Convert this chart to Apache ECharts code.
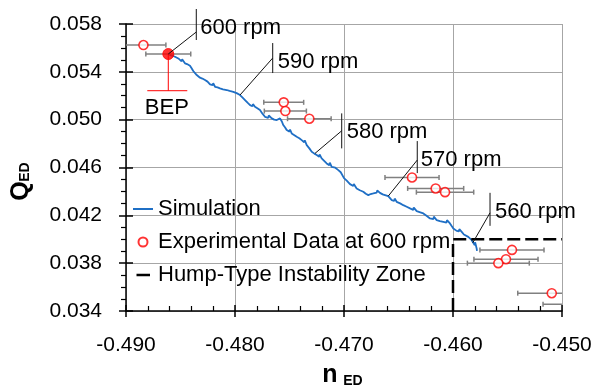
<!DOCTYPE html>
<html><head><meta charset="utf-8">
<script src="https://cdn.jsdelivr.net/npm/echarts@6/dist/echarts.min.js"></script>
<style>html,body{margin:0;padding:0;background:#fff}#c{width:603px;height:391px}</style>
</head><body><div id="c"></div>
<script>
// ---------- data ----------
const xMin = -0.490, xMax = -0.450, xStep = 0.010;
const yMin = 0.034, yMax = 0.058, yStep = 0.004;

const simX = [-0.48606,-0.48585,-0.48570,-0.48550,-0.48532,-0.48520,-0.48505,-0.48490,-0.48485,-0.48478,-0.48459,-0.48440,-0.48425,-0.48413,-0.48398,-0.48392,-0.48383,-0.48368,-0.48351,-0.48335,-0.48321,-0.48300,-0.48275,-0.48252,-0.48240,-0.48229,-0.48205,-0.48200,-0.48183,-0.48160,-0.48138,-0.48110,-0.48105,-0.48076,-0.48050,-0.48045,-0.48016,-0.47985,-0.47954,-0.47930,-0.47908,-0.47885,-0.47862,-0.47840,-0.47835,-0.47817,-0.47795,-0.47771,-0.47748,-0.47725,-0.47695,-0.47690,-0.47663,-0.47640,-0.47617,-0.47600,-0.47587,-0.47570,-0.47557,-0.47540,-0.47526,-0.47500,-0.47495,-0.47480,-0.47455,-0.47434,-0.47410,-0.47388,-0.47365,-0.47360,-0.47342,-0.47318,-0.47296,-0.47272,-0.47250,-0.47228,-0.47224,-0.47205,-0.47182,-0.47159,-0.47135,-0.47130,-0.47113,-0.47080,-0.47052,-0.47030,-0.47000,-0.46975,-0.46945,-0.46915,-0.46910,-0.46884,-0.46855,-0.46850,-0.46823,-0.46800,-0.46777,-0.46755,-0.46731,-0.46700,-0.46695,-0.46670,-0.46645,-0.46624,-0.46594,-0.46562,-0.46540,-0.46535,-0.46517,-0.46485,-0.46456,-0.46425,-0.46394,-0.46365,-0.46360,-0.46333,-0.46300,-0.46296,-0.46272,-0.46240,-0.46211,-0.46180,-0.46176,-0.46150,-0.46120,-0.46089,-0.46060,-0.46055,-0.46028,-0.46012,-0.45997,-0.45980,-0.45966,-0.45945,-0.45942,-0.45920,-0.45905,-0.45900,-0.45890,-0.45860,-0.45828,-0.45800,-0.45797,-0.45783,-0.45780];
const simY = [0.05546,0.05538,0.05530,0.05526,0.05510,0.05512,0.05499,0.05488,0.05505,0.05490,0.05471,0.05465,0.05458,0.05451,0.05430,0.05445,0.05407,0.05395,0.05373,0.05362,0.05351,0.05344,0.05331,0.05318,0.05308,0.05295,0.05288,0.05305,0.05275,0.05270,0.05262,0.05254,0.05240,0.05248,0.05240,0.05255,0.05233,0.05222,0.05206,0.05185,0.05164,0.05142,0.05122,0.05112,0.05130,0.05108,0.05095,0.05080,0.05050,0.05024,0.05015,0.05035,0.05011,0.05000,0.04997,0.05008,0.05011,0.04985,0.04955,0.04935,0.04913,0.04900,0.04918,0.04885,0.04870,0.04857,0.04845,0.04829,0.04810,0.04828,0.04787,0.04760,0.04731,0.04716,0.04704,0.04690,0.04710,0.04676,0.04655,0.04634,0.04618,0.04640,0.04606,0.04598,0.04578,0.04560,0.04511,0.04490,0.04461,0.04445,0.04462,0.04425,0.04410,0.04395,0.04397,0.04380,0.04369,0.04378,0.04383,0.04390,0.04408,0.04388,0.04375,0.04369,0.04360,0.04327,0.04320,0.04340,0.04313,0.04300,0.04285,0.04272,0.04258,0.04245,0.04265,0.04235,0.04225,0.04210,0.04216,0.04195,0.04174,0.04168,0.04190,0.04160,0.04152,0.04146,0.04140,0.04160,0.04132,0.04110,0.04090,0.04078,0.04070,0.04066,0.04085,0.04062,0.04055,0.04040,0.04049,0.04020,0.03992,0.03950,0.03975,0.03923,0.03903];

const expX   = [-0.48840,-0.47553,-0.47538,-0.47318,-0.46376,-0.46159,-0.46073,-0.45459,-0.45514,-0.45584,-0.45094,-0.44854];
const expY   = [ 0.05624, 0.05145, 0.05072, 0.05008, 0.04517, 0.04425, 0.04394, 0.03911, 0.03833, 0.03800, 0.03549, 0.03457];
const expErr = [ 0.00206, 0.00183, 0.00193, 0.00200, 0.00248, 0.00257, 0.00263, 0.00294, 0.00294, 0.00284, 0.00312, 0.00320];

const bepX = -0.48612, bepY = 0.05549, bepErr = 0.00206;

const humpX = -0.460, humpY = 0.040;

const annLabels = ['600 rpm','590 rpm','580 rpm','570 rpm','560 rpm'];
const annX = [-0.48612,-0.47954,-0.47266,-0.46594,-0.45819];
const annY = [ 0.05549, 0.05206, 0.04718, 0.04361, 0.03970];

// ---------- styles (pixel offsets of callouts) ----------
const annOff = [
  {dx:28,   top:-45, bot:-14, dEnd:-22,   ty:-26,   tx:4},
  {dx:32.7, top:-52, bot:-22, dEnd:-37,   ty:-33,   tx:5},
  {dx:26.7, top:-40, bot:-5,  dEnd:-22.6, ty:-21.6, tx:5},
  {dx:29,   top:-55, bot:-23, dEnd:-36,   ty:-36,   tx:3.5},
  {dx:17.3, top:-50, bot:-17, dEnd:-30,   ty:-31,   tx:5}
];
const FONT = '"Liberation Sans", Arial, sans-serif';

const chart = echarts.init(document.getElementById('c'), null, {renderer:'canvas'});

function errRender(params, api){
  const x = api.value(0), y = api.value(1), e = api.value(2);
  const a = api.coord([x - e, y]), b = api.coord([x + e, y]);
  const st = {stroke:'#808080', lineWidth:1.5};
  return {type:'group', children:[
    {type:'line', shape:{x1:a[0], y1:a[1], x2:b[0], y2:b[1]}, style:st},
    {type:'line', shape:{x1:a[0], y1:a[1]-2.5, x2:a[0], y2:a[1]+2.5}, style:st},
    {type:'line', shape:{x1:b[0], y1:b[1]-2.5, x2:b[0], y2:b[1]+2.5}, style:st}
  ]};
}

const axisCommonX = {type:'value', min:xMin, max:xMax, interval:xStep, position:'bottom'};
const axisCommonY = {type:'value', min:yMin, max:yMax, interval:yStep, position:'left'};

const option = {
  animation:false,
  backgroundColor:'#fff',
  grid:{left:126, right:41, top:24, bottom:80, containLabel:false},
  xAxis:[
    Object.assign({}, axisCommonX, {
      axisLine:{show:true, onZero:false, lineStyle:{color:'#000', width:1.5}},
      axisTick:{show:true, inside:false, length:6, lineStyle:{color:'#000', width:1.5}},
      minorTick:{show:false},
      axisLabel:{show:true, color:'#000', fontSize:21, fontFamily:FONT, margin:24,
        formatter:v => v.toFixed(3)},
      splitLine:{show:true, lineStyle:{color:'#a6a6a6', width:1}}
    }),
    Object.assign({}, axisCommonX, {
      axisLine:{show:false, onZero:false},
      axisTick:{show:true, inside:true, length:6, lineStyle:{color:'#000', width:1.5}},
      minorTick:{show:true, splitNumber:5, length:5, lineStyle:{color:'#000', width:1.2}},
      axisLabel:{show:false}, splitLine:{show:false}
    })
  ],
  yAxis:[
    Object.assign({}, axisCommonY, {
      axisLine:{show:true, onZero:false, lineStyle:{color:'#000', width:1.5}},
      axisTick:{show:true, inside:false, length:7, lineStyle:{color:'#000', width:1.5}},
      minorTick:{show:true, splitNumber:4, length:5, lineStyle:{color:'#000', width:1.2}},
      axisLabel:{show:true, color:'#000', fontSize:21, fontFamily:FONT, margin:24,
        formatter:v => v.toFixed(3)},
      splitLine:{show:true, lineStyle:{color:'#a6a6a6', width:1}}
    }),
    Object.assign({}, axisCommonY, {
      axisLine:{show:false, onZero:false},
      axisTick:{show:true, inside:true, length:7, lineStyle:{color:'#000', width:1.5}},
      minorTick:{show:false}, axisLabel:{show:false}, splitLine:{show:false}
    })
  ],
  legend:{
    orient:'vertical', left:128, top:193, itemWidth:20, itemHeight:9, itemGap:11,
    symbolKeepAspect:true,
    textStyle:{color:'#000', fontSize:22, fontFamily:FONT},
    data:[
      {name:'Simulation', icon:'path://M0,0h20v2h-20z'},
      {name:'Experimental Data at 600 rpm', icon:'circle'},
      {name:'Hump-Type Instability Zone', icon:'path://M0,0h0.05v0.05h-0.05z M3.5,0h13.5v2.6h-13.5z M19.95,0h0.05v0.05h-0.05z'}
    ]
  },
  series:[
    {
      name:'Simulation', type:'line', xAxisIndex:0, yAxisIndex:0,
      data: simX.map((x,i) => [x, simY[i]]),
      showSymbol:false, symbol:'none',
      lineStyle:{color:'#1f6fc5', width:1.8}, itemStyle:{color:'#1f6fc5'}, z:2
    },
    {
      name:'Hump-Type Instability Zone', type:'line', xAxisIndex:0, yAxisIndex:0,
      data: [[humpX, yMin], [humpX, humpY], [xMax, humpY]],
      showSymbol:false, symbol:'none',
      lineStyle:{color:'#000', width:2.5, type:[13,5]}, itemStyle:{color:'#000'}, z:3
    },
    {
      name:'errbars', type:'custom', xAxisIndex:0, yAxisIndex:0, clip:true,
      renderItem: errRender,
      data: expX.map((x,i) => [x, expY[i], expErr[i]]).concat([[bepX, bepY, bepErr]]),
      z:4, silent:true
    },
    {
      name:'Experimental Data at 600 rpm', type:'scatter', xAxisIndex:0, yAxisIndex:0, clip:true,
      data: expX.map((x,i) => [x, expY[i]]),
      symbol:'circle', symbolSize:9,
      itemStyle:{color:'#fff', borderColor:'#ff0000', borderWidth:1.6}, z:5
    },
    {
      name:'BEP', type:'scatter', xAxisIndex:0, yAxisIndex:0,
      data: [[bepX, bepY]], symbol:'circle', symbolSize:11,
      itemStyle:{color:'#ff0000', borderColor:'#ff0000', borderWidth:1}, z:6
    },
    {
      name:'bepNote', type:'custom', xAxisIndex:0, yAxisIndex:0, clip:false, silent:true,
      data: [[bepX, bepY]],
      renderItem: function(params, api){
        const p = api.coord([api.value(0), api.value(1)]);
        const st = {stroke:'#ff0000', lineWidth:1};
        return {type:'group', children:[
          {type:'line', shape:{x1:p[0], y1:p[1], x2:p[0], y2:p[1]+36.7}, style:st},
          {type:'line', shape:{x1:p[0]-21, y1:p[1]+36.7, x2:p[0]+19, y2:p[1]+36.7}, style:st},
          {type:'text', x:p[0]-1.5, y:p[1]+53.5, style:{text:'BEP', fill:'#000', fontSize:22, fontFamily:FONT, align:'center', verticalAlign:'middle'}}
        ]};
      }, z:5
    },
    {
      name:'rpmNotes', type:'custom', xAxisIndex:0, yAxisIndex:0, clip:false, silent:true,
      data: annX.map((x,i) => [x, annY[i], i]),
      renderItem: function(params, api){
        const i = api.value(2);
        const p = api.coord([api.value(0), api.value(1)]);
        const o = annOff[i];
        const st = {stroke:'#111', lineWidth:1};
        return {type:'group', children:[
          {type:'line', shape:{x1:p[0], y1:p[1], x2:p[0]+o.dx, y2:p[1]+o.dEnd}, style:st},
          {type:'line', shape:{x1:p[0]+o.dx, y1:p[1]+o.top, x2:p[0]+o.dx, y2:p[1]+o.bot}, style:st},
          {type:'text', x:p[0]+o.dx+o.tx, y:p[1]+o.ty, style:{text:annLabels[i], fill:'#000', fontSize:22, fontFamily:FONT, align:'left', verticalAlign:'middle'}}
        ]};
      }, z:7
    }
  ],
  graphic:[
    {type:'text', x:21.5, y:191, rotation:Math.PI/2,
      style:{text:'Q', fill:'#000', fontSize:25, fontWeight:'bold', fontFamily:FONT, align:'center', verticalAlign:'middle'}},
    {type:'text', x:25, y:172, rotation:Math.PI/2,
      style:{text:'ED', fill:'#000', fontSize:14, fontWeight:'bold', fontFamily:FONT, align:'center', verticalAlign:'middle'}},
    {type:'text', x:330, y:375,
      style:{text:'n', fill:'#000', fontSize:25, fontWeight:'bold', fontFamily:FONT, align:'center', verticalAlign:'middle'}},
    {type:'text', x:353, y:381.5,
      style:{text:'ED', fill:'#000', fontSize:14, fontWeight:'bold', fontFamily:FONT, align:'center', verticalAlign:'middle'}}
  ]
};
chart.setOption(option);
</script>
</body></html>
